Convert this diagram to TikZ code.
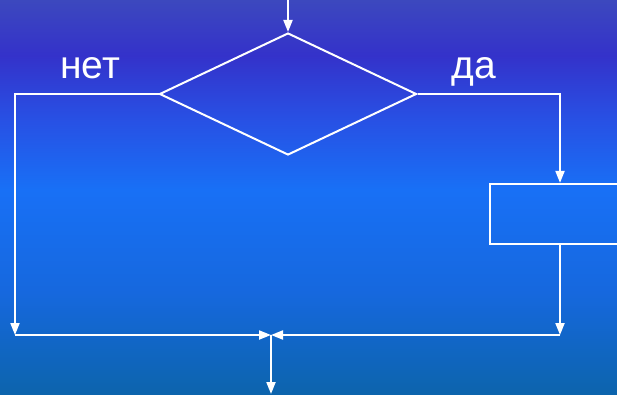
\documentclass[tikz,border=0pt]{standalone}
\usepackage{fontspec}
\setmainfont{Liberation Sans}
\usetikzlibrary{arrows.meta,shapes.geometric}
\definecolor{bgA}{RGB}{60,72,190}
\definecolor{bgB}{RGB}{52,50,202}
\definecolor{bgC}{RGB}{40,80,228}
\definecolor{bgD}{RGB}{24,112,246}
\definecolor{bgE}{RGB}{22,104,222}
\definecolor{bgF}{RGB}{12,100,172}
\pgfdeclareverticalshading{bgshade}{100bp}{color(0bp)=(bgF); color(25bp)=(bgF); color(38bp)=(bgE); color(51bp)=(bgD); color(60bp)=(bgC); color(68bp)=(bgB); color(75bp)=(bgA); color(100bp)=(bgA)}
\tikzset{
  flow/.style={draw=white, line width=2pt},
  arr/.style={flow, -{Triangle[length=12pt,width=9pt]}},
  decision/.style={diamond, draw=white, line width=2pt, minimum width=257pt, minimum height=122pt, inner sep=0pt},
  procbox/.style={rectangle, draw=white, line width=2.2pt, minimum width=230pt, minimum height=60pt, inner sep=0pt},
  lbl/.style={text=white, font=\fontsize{39}{41}\selectfont, inner sep=0pt, anchor=base}
}
\begin{document}
\begin{tikzpicture}[x=1pt,y=-1pt]
\useasboundingbox (0,0) rectangle (617,395);
\clip (0,0) rectangle (617,395);
\shade[shading=bgshade] (0,0) rectangle (617,395);
\node[decision] (d) at (288,94) {};
\node[procbox] (r) at (605,214) {};
\coordinate (start) at (288,0);
\coordinate (tl) at (15,94);
\coordinate (bl) at (15,335);
\coordinate (tr) at (560,94);
\coordinate (br) at (560,335);
\coordinate (m) at (271,335);
\coordinate (end) at (271,394);
\node[lbl] (no) at (90,79) {нет};
\node[lbl] (yes) at (474,79) {да};
\draw[arr] (start) -- (d.north);
\draw[arr] (d.west) -- (tl) -- (bl);
\draw[arr] (bl) -- (m);
\draw[arr] (d.east) -- (tr) -- (tr |- r.north);
\draw[arr] (tr |- r.south) -- (br);
\draw[arr] (br) -- (m);
\draw[arr] (m) -- (end);
\end{tikzpicture}
\end{document}
